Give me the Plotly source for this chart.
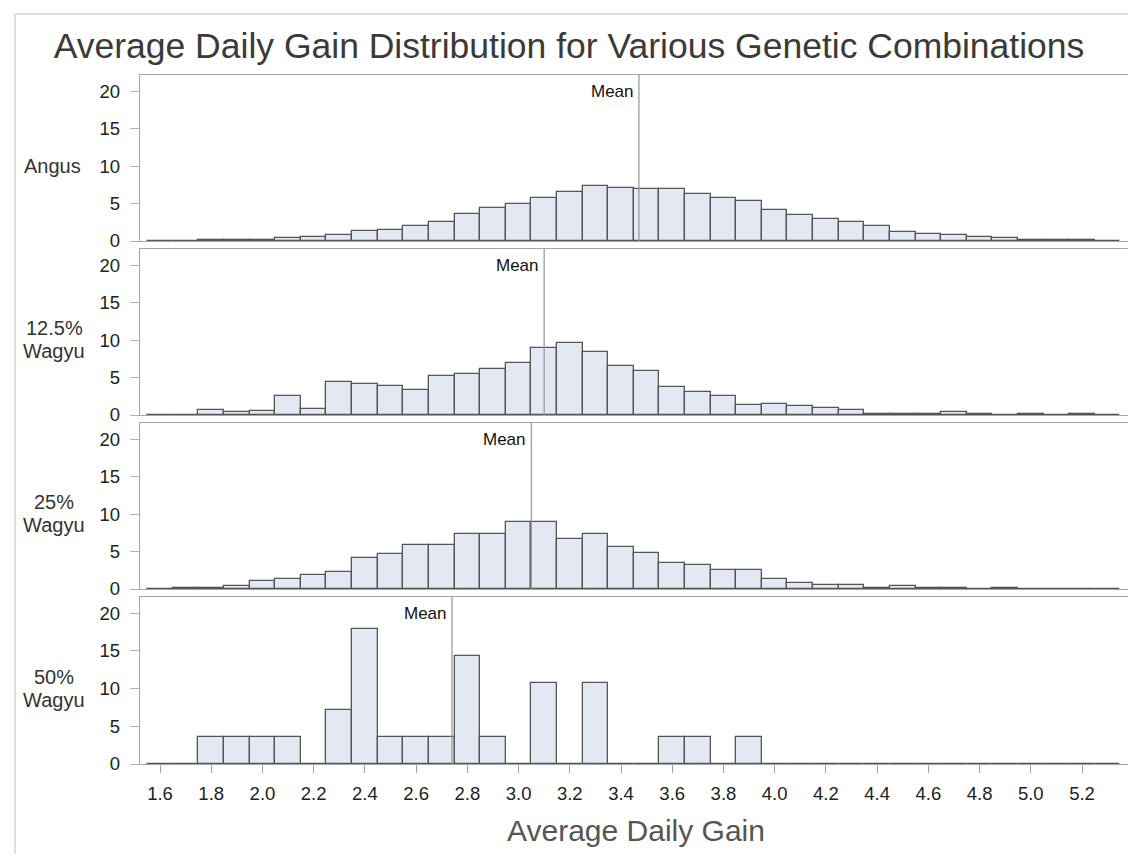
import plotly.graph_objects as go

# ---------------- data ----------------
bin_centers = [1.6, 1.7, 1.8, 1.9, 2.0, 2.1, 2.2, 2.3, 2.4, 2.5, 2.6, 2.7, 2.8, 2.9,
               3.0, 3.1, 3.2, 3.3, 3.4, 3.5, 3.6, 3.7, 3.8, 3.9, 4.0, 4.1, 4.2, 4.3,
               4.4, 4.5, 4.6, 4.7, 4.8, 4.9, 5.0, 5.1, 5.2, 5.3]

group_line1 = ["Angus", "12.5%", "25%", "50%"]
group_line2 = ["", "Wagyu", "Wagyu", "Wagyu"]

angus_pct = [0.05, 0.05, 0.1, 0.15, 0.2, 0.4, 0.6, 0.8, 1.3, 1.5, 2.0, 2.5, 3.6, 4.4,
             4.9, 5.8, 6.6, 7.4, 7.1, 7.0, 7.0, 6.3, 5.8, 5.4, 4.2, 3.5, 2.9, 2.5,
             2.0, 1.2, 1.0, 0.8, 0.6, 0.35, 0.15, 0.12, 0.1, 0.05]

wagyu125_pct = [0.05, 0.0, 0.7, 0.4, 0.6, 2.5, 0.8, 4.4, 4.2, 3.9, 3.4, 5.2, 5.5, 6.1,
                7.0, 9.0, 9.6, 8.4, 6.5, 5.9, 3.7, 3.1, 2.5, 1.35, 1.5, 1.25, 1.0, 0.65,
                0.2, 0.15, 0.15, 0.35, 0.15, 0.0, 0.15, 0.0, 0.15, 0.0]

wagyu25_pct = [0.05, 0.2, 0.12, 0.45, 1.1, 1.3, 1.85, 2.3, 4.15, 4.7, 5.85, 5.85, 7.3, 7.3,
               8.9, 9.0, 6.7, 7.3, 5.6, 4.8, 3.5, 3.2, 2.5, 2.5, 1.3, 0.85, 0.6, 0.6,
               0.2, 0.4, 0.12, 0.08, 0.05, 0.12, 0.05, 0.05, 0.05, 0.05]

wagyu50_pct = [0.0, 0.0, 3.57, 3.57, 3.57, 3.57, 0.0, 7.14, 17.86, 3.57, 3.57, 3.57, 14.29, 3.57,
               0.0, 10.71, 0.0, 10.71, 0.0, 0.0, 3.57, 3.57, 0.0, 3.57, 0.0, 0.0, 0.0, 0.0,
               0.0, 0.0, 0.0, 0.0, 0.0, 0.0, 0.0, 0.0, 0.0, 0.0]

means = [3.47, 3.10, 3.05, 2.74]

x_tick_vals = [1.6, 1.8, 2.0, 2.2, 2.4, 2.6, 2.8, 3.0, 3.2, 3.4, 3.6, 3.8, 4.0, 4.2,
               4.4, 4.6, 4.8, 5.0, 5.2]
x_tick_text = ["1.6", "1.8", "2.0", "2.2", "2.4", "2.6", "2.8", "3.0", "3.2", "3.4",
               "3.6", "3.8", "4.0", "4.2", "4.4", "4.6", "4.8", "5.0", "5.2"]
y_tick_vals = [0, 5, 10, 15, 20]

series = [angus_pct, wagyu125_pct, wagyu25_pct, wagyu50_pct]

# ---------------- layout geometry (pixels) ----------------
W, H = 1136, 854
L, R, T, B = 132, 14, 67, 98
plot_h = H - T - B
panels_px = [(67, 233), (241, 407), (415, 581), (589, 756)]


def py2paper(py):
    return (H - B - py) / plot_h


def px2paper(px):
    return (px - L) / (W - L - R)


FONT = "Liberation Sans, Arial, sans-serif"
BAR_FILL = "#E3E8F2"
BAR_LINE = "#555555"
FRAME = "#A3A7AD"

fig = go.Figure()
for i, vals in enumerate(series):
    ax = "" if i == 0 else str(i + 1)
    fig.add_trace(go.Bar(
        x=bin_centers, y=vals, width=0.1,
        marker=dict(color=BAR_FILL, line=dict(color=BAR_LINE, width=1.3)),
        xaxis="x" + ax, yaxis="y" + ax, showlegend=False,
        hoverinfo="x+y",
    ))

layout = dict(
    width=W, height=H,
    margin=dict(l=L, r=R, t=T, b=B),
    paper_bgcolor="white", plot_bgcolor="white",
    font=dict(family=FONT, color="#222"),
    bargap=0,
    title=dict(text="Average Daily Gain Distribution for Various Genetic Combinations",
               x=561 / W, xref="container", xanchor="center",
               y=1 - 38 / H, yref="container", yanchor="middle",
               font=dict(family=FONT, size=35.5, color="#3a3a3a")),
)

annotations = []
shapes = []
for i in range(4):
    ax = "" if i == 0 else str(i + 1)
    top, bot = panels_px[i]
    xa = dict(
        domain=[0, 1], range=[1.5219, 5.3874], anchor="y" + ax,
        showline=True, mirror=True, linecolor=FRAME, linewidth=1.3,
        showgrid=False, zeroline=False,
        tickvals=x_tick_vals, ticktext=x_tick_text,
    )
    if i == 3:
        xa.update(ticks="outside", ticklen=8, tickcolor="#A0A0A0", tickwidth=1.3,
                  showticklabels=True, tickfont=dict(size=18.5, color="#222"),
                  ticklabelstandoff=5)
    else:
        xa.update(ticks="", showticklabels=False, matches="x4")
    ya = dict(
        domain=[py2paper(bot), py2paper(top)], range=[0, 22.15], anchor="x" + ax,
        showline=True, mirror=True, linecolor=FRAME, linewidth=1.3,
        showgrid=False, zeroline=False,
        tickvals=y_tick_vals, ticks="outside", ticklen=9, tickcolor="#B0B0B0",
        tickwidth=1.3, tickfont=dict(size=18.5, color="#222"), ticklabelstandoff=6,
    )
    layout["xaxis" + ax] = xa
    layout["yaxis" + ax] = ya

    # mean reference line
    shapes.append(dict(type="line", xref="x" + ax, yref="y" + ax + " domain",
                       x0=means[i], x1=means[i], y0=0, y1=1,
                       line=dict(color="#9C9C9C", width=1.3)))
    annotations.append(dict(text="Mean", xref="x" + ax, yref="y" + ax + " domain",
                            x=means[i], y=1, xanchor="right", yanchor="top",
                            xshift=-3, yshift=-5, showarrow=False,
                            font=dict(size=17, color="#111")))
    # group label (one or two lines)
    if group_line2[i]:
        annotations.append(dict(text=group_line1[i], xref="paper", yref="y" + ax,
                                x=px2paper(46), y=10, yshift=12, xanchor="center",
                                yanchor="middle", showarrow=False,
                                font=dict(size=20, color="#333")))
        annotations.append(dict(text=group_line2[i], xref="paper", yref="y" + ax,
                                x=px2paper(46), y=10, yshift=-11, xanchor="center",
                                yanchor="middle", showarrow=False,
                                font=dict(size=20, color="#333")))
    else:
        annotations.append(dict(text=group_line1[i], xref="paper", yref="y" + ax,
                                x=px2paper(44), y=10, xanchor="center",
                                yanchor="middle", showarrow=False,
                                font=dict(size=20, color="#333")))

# x-axis title
annotations.append(dict(text="Average Daily Gain", xref="paper", yref="paper",
                        x=px2paper(628), y=py2paper(822), xanchor="center",
                        yanchor="middle", showarrow=False,
                        font=dict(size=30, color="#555")))

# outer light frame (left and top edges)
shapes.append(dict(type="line", xref="paper", yref="paper",
                   x0=px2paper(7), x1=px2paper(7), y0=py2paper(6), y1=py2paper(860),
                   line=dict(color="#D4D4D4", width=1.5)))
shapes.append(dict(type="line", xref="paper", yref="paper",
                   x0=px2paper(7), x1=px2paper(1140), y0=py2paper(6), y1=py2paper(6),
                   line=dict(color="#D4D4D4", width=1.5)))

layout["annotations"] = annotations
layout["shapes"] = shapes
fig.update_layout(**layout)

fig.write_html("out.html")
